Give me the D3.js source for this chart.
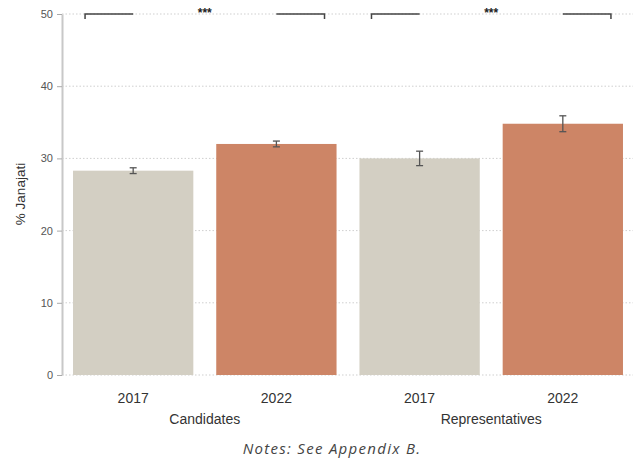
<!DOCTYPE html>
<html>
<head>
<meta charset="utf-8">
<script src="https://cdn.jsdelivr.net/npm/d3@7"></script>
<style>
  body { margin: 0; background: #fff; }
</style>
</head>
<body>
<div id="canvas"></div>
<script>
"use strict"

/* Data */
const groups = ["Candidates", "Representatives"];
const years = ["2017", "2022", "2017", "2022"];
const values = [28.3, 32.0, 30.0, 34.8];
const errors = [0.4, 0.4, 1.0, 1.1];
const barGroup = [0, 0, 1, 1];
const yTicks = [0, 10, 20, 30, 40, 50];
const sigLabels = ["***", "***"];

const W = 633, H = 462;
const colors = ["#d3cfc3", "#cd8566"];

let svg = d3.select("#canvas").append("svg")
    .attr("width", W)
    .attr("height", H);

let x = d3.scaleBand()
    .domain(d3.range(values.length))
    .range([63, 633])
    .paddingInner(0.16)
    .paddingOuter(0.07);

let y = d3.scaleLinear()
    .domain([0, 50])
    .range([375, 14]);

/* Grid lines */
svg.append("g")
    .selectAll("line")
    .data(yTicks)
    .join("line")
    .attr("x1", 62)
    .attr("x2", W)
    .attr("y1", d => y(d))
    .attr("y2", d => y(d))
    .attr("stroke", "#cfcfcf")
    .attr("stroke-width", 1)
    .attr("stroke-dasharray", "1.5,2");

/* Bars */
svg.append("g")
    .selectAll("rect")
    .data(values)
    .join("rect")
    .attr("x", (d, i) => x(i))
    .attr("y", d => y(d))
    .attr("width", x.bandwidth())
    .attr("height", d => y(0) - y(d))
    .attr("fill", (d, i) => colors[i % 2]);

/* Error bars */
let eb = svg.append("g")
    .attr("stroke", "#555")
    .attr("stroke-width", 1.3);
values.forEach((v, i) => {
    let cx = x(i) + x.bandwidth() / 2;
    eb.append("line")
        .attr("x1", cx).attr("x2", cx)
        .attr("y1", y(v - errors[i])).attr("y2", y(v + errors[i]));
    [v - errors[i], v + errors[i]].forEach(e => {
        eb.append("line")
            .attr("x1", cx - 3.5).attr("x2", cx + 3.5)
            .attr("y1", y(e)).attr("y2", y(e));
    });
});

/* Y axis */
let yAxis = svg.append("g")
    .attr("transform", "translate(62,0)")
    .call(d3.axisLeft(y).tickValues(yTicks).tickSize(5).tickSizeOuter(0));
yAxis.select(".domain").attr("stroke", "#c8c8c8").attr("stroke-width", 2);
yAxis.selectAll(".tick line").attr("stroke", "#aaa");
yAxis.selectAll(".tick text")
    .attr("fill", "#555")
    .attr("font-family", "Liberation Sans, Arial, sans-serif")
    .attr("font-size", 11)
    .attr("x", -9);

svg.append("text")
    .attr("transform", "translate(25,194) rotate(-90)")
    .attr("text-anchor", "middle")
    .attr("font-family", "Liberation Sans, Arial, sans-serif")
    .attr("font-size", 13.5)
    .attr("fill", "#333")
    .text("% Janajati");

/* X labels */
svg.append("g")
    .selectAll("text")
    .data(years)
    .join("text")
    .attr("x", (d, i) => x(i) + x.bandwidth() / 2)
    .attr("y", 403)
    .attr("text-anchor", "middle")
    .attr("font-family", "Liberation Sans, Arial, sans-serif")
    .attr("font-size", 14)
    .attr("fill", "#333")
    .text(d => d);

svg.append("g")
    .selectAll("text")
    .data(groups)
    .join("text")
    .attr("x", (d, g) => {
        let idx = barGroup.map((b, i) => b === g ? i : -1).filter(i => i >= 0);
        return (x(idx[0]) + x(idx[idx.length - 1]) + x.bandwidth()) / 2;
    })
    .attr("y", 424)
    .attr("text-anchor", "middle")
    .attr("font-family", "Liberation Sans, Arial, sans-serif")
    .attr("font-size", 14)
    .attr("fill", "#333")
    .text(d => d);

/* Significance brackets */
let br = svg.append("g");
groups.forEach((g, gi) => {
    let idx = barGroup.map((b, i) => b === gi ? i : -1).filter(i => i >= 0);
    let a = idx[0], b = idx[idx.length - 1];
    let bw = x.bandwidth();
    let left = x(a) + bw * 0.1, lc = x(a) + bw / 2;
    let rc = x(b) + bw / 2, right = x(b) + bw * 0.9;
    let yy = y(50);
    br.append("path")
        .attr("d", `M${left},${yy + 5}V${yy}H${lc}`)
        .attr("fill", "none").attr("stroke", "#444").attr("stroke-width", 1.5);
    br.append("path")
        .attr("d", `M${rc},${yy}H${right}V${yy + 5}`)
        .attr("fill", "none").attr("stroke", "#444").attr("stroke-width", 1.5);
    br.append("text")
        .attr("x", (lc + rc) / 2)
        .attr("y", yy + 3)
        .attr("text-anchor", "middle")
        .attr("font-family", "Liberation Sans, Arial, sans-serif")
        .attr("font-size", 12)
        .attr("font-weight", "bold")
        .attr("fill", "#222")
        .text(sigLabels[gi]);
});

/* Notes */
svg.append("text")
    .attr("x", 332)
    .attr("y", 454)
    .attr("text-anchor", "middle")
    .attr("font-family", "Open Sans, sans-serif")
    .attr("font-style", "italic")
    .attr("font-size", 15)
    .attr("letter-spacing", 1.3)
    .attr("fill", "#444")
    .text("Notes: See Appendix B.");
</script>
</body>
</html>
